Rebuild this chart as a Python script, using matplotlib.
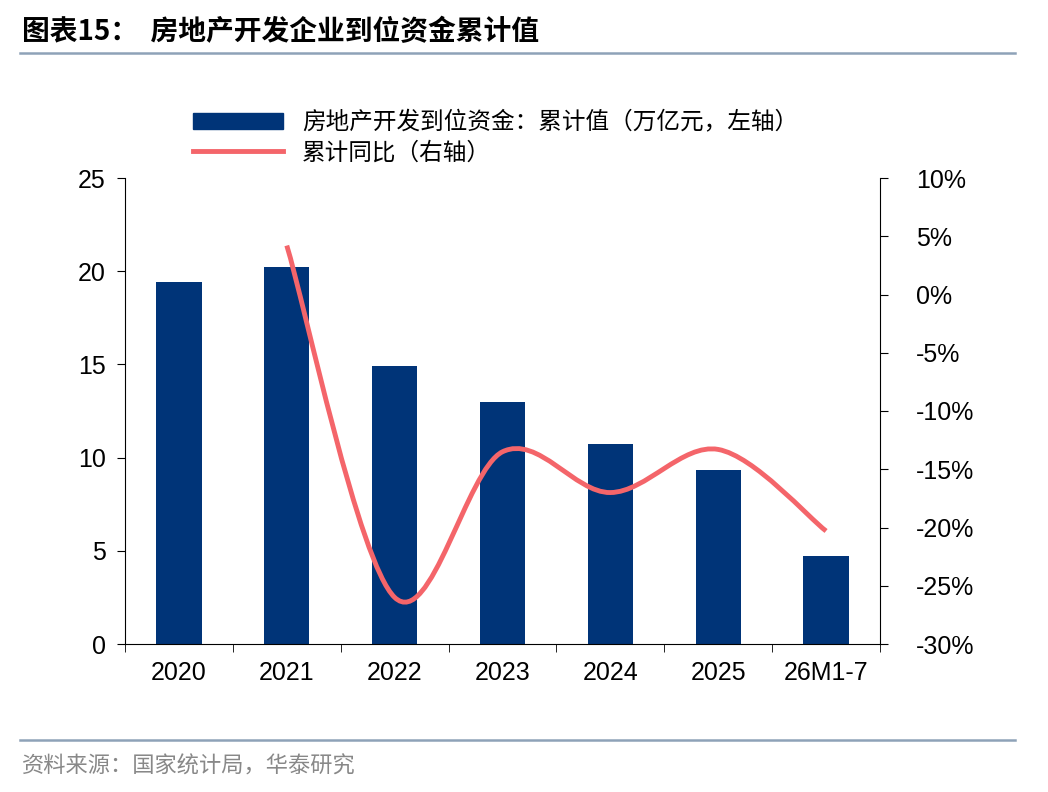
import matplotlib
matplotlib.use("Agg")
import matplotlib.pyplot as plt
from matplotlib.path import Path
from matplotlib.patches import PathPatch
from matplotlib.lines import Line2D
import numpy as np

plt.rcParams['font.family'] = ['Liberation Sans', 'Noto Sans CJK SC', 'DejaVu Sans']

categories = ["2020", "2021", "2022", "2023", "2024", "2025", "26M1-7"]
funds = [19.4, 20.2, 14.9, 13.0, 10.75, 9.35, 4.7]
yoy = [None, 4.2, -26.0, -13.5, -17.0, -13.3, -20.3]

navy = "#003478"
red = "#F4656A"

fig = plt.figure(figsize=(10.48, 7.92), dpi=100)
ax = fig.add_axes([125/1048, 1-644/792, 755/1048, 466/792])
x = np.arange(len(categories))
ax.bar(x, funds, width=0.42, color=navy)
ax.set_xlim(-0.5, len(categories)-0.5)
ax.set_ylim(0, 25)
ax.set_yticks(range(0, 26, 5))
ax.set_xticks(x)
ax.set_xticklabels(categories)
ax.set_xticks(np.arange(-0.5, len(categories), 1), minor=True)
ax.tick_params(axis='x', which='major', length=0, pad=12, labelsize=18)
ax.tick_params(axis='x', which='minor', length=6, direction='out')
ax.tick_params(axis='y', labelsize=18, length=6, direction='out', pad=8)
for s in ['top', 'right']:
    ax.spines[s].set_visible(False)

ax2 = ax.twinx()
ax2.set_ylim(-30, 10)
ax2.set_yticks(range(-30, 11, 5))
ax2.set_yticklabels([f"{v}%" for v in range(-30, 11, 5)])
ax2.tick_params(axis='y', labelsize=18, length=6, direction='out', pad=20)
for s in ['top', 'left', 'bottom']:
    ax2.spines[s].set_visible(False)

# smooth line through points (Catmull-Rom as bezier segments)
pts = [(xi, yi) for xi, yi in zip(x, yoy) if yi is not None]
pts = np.array(pts, dtype=float)
verts = [tuple(pts[0])]
codes = [Path.MOVETO]
for i in range(len(pts)-1):
    p0 = pts[max(i-1, 0)]; p1 = pts[i]; p2 = pts[i+1]; p3 = pts[min(i+2, len(pts)-1)]
    c1 = p1 + (p2 - p0) / 6
    c2 = p2 - (p3 - p1) / 6
    verts += [tuple(c1), tuple(c2), tuple(p2)]
    codes += [Path.CURVE4] * 3
ax2.add_patch(PathPatch(Path(verts, codes), facecolor='none', edgecolor=red, lw=3.5))

handles = [plt.Rectangle((0, 0), 1, 1, color=navy), Line2D([], [], color=red, lw=3.5)]
labels = ["房地产开发到位资金：累计值（万亿元，左轴）", "累计同比（右轴）"]
fig.legend(handles, labels, loc='upper left', bbox_to_anchor=(172/1048, 1-90/792),
           frameon=False, handlelength=3.8, labelspacing=0.3,
           prop={'family': ['Noto Sans CJK SC'], 'size': 17})

fig.text(22/1048, 1-32/792, "图表15：  房地产开发企业到位资金累计值", fontsize=20,
         fontweight='bold', va='center', family=['Noto Sans CJK SC'])
fig.add_artist(Line2D([20/1048, 1015/1048], [1-53/792, 1-53/792], color="#8EA2B8", lw=1.8))
fig.add_artist(Line2D([20/1048, 1015/1048], [1-740/792, 1-740/792], color="#8EA2B8", lw=1.8))
fig.text(22/1048, 1-766/792, "资料来源：国家统计局，华泰研究", fontsize=16, color="#888888",
         va='center', family=['Noto Sans CJK SC'])

fig.savefig("out.png", dpi=100)
